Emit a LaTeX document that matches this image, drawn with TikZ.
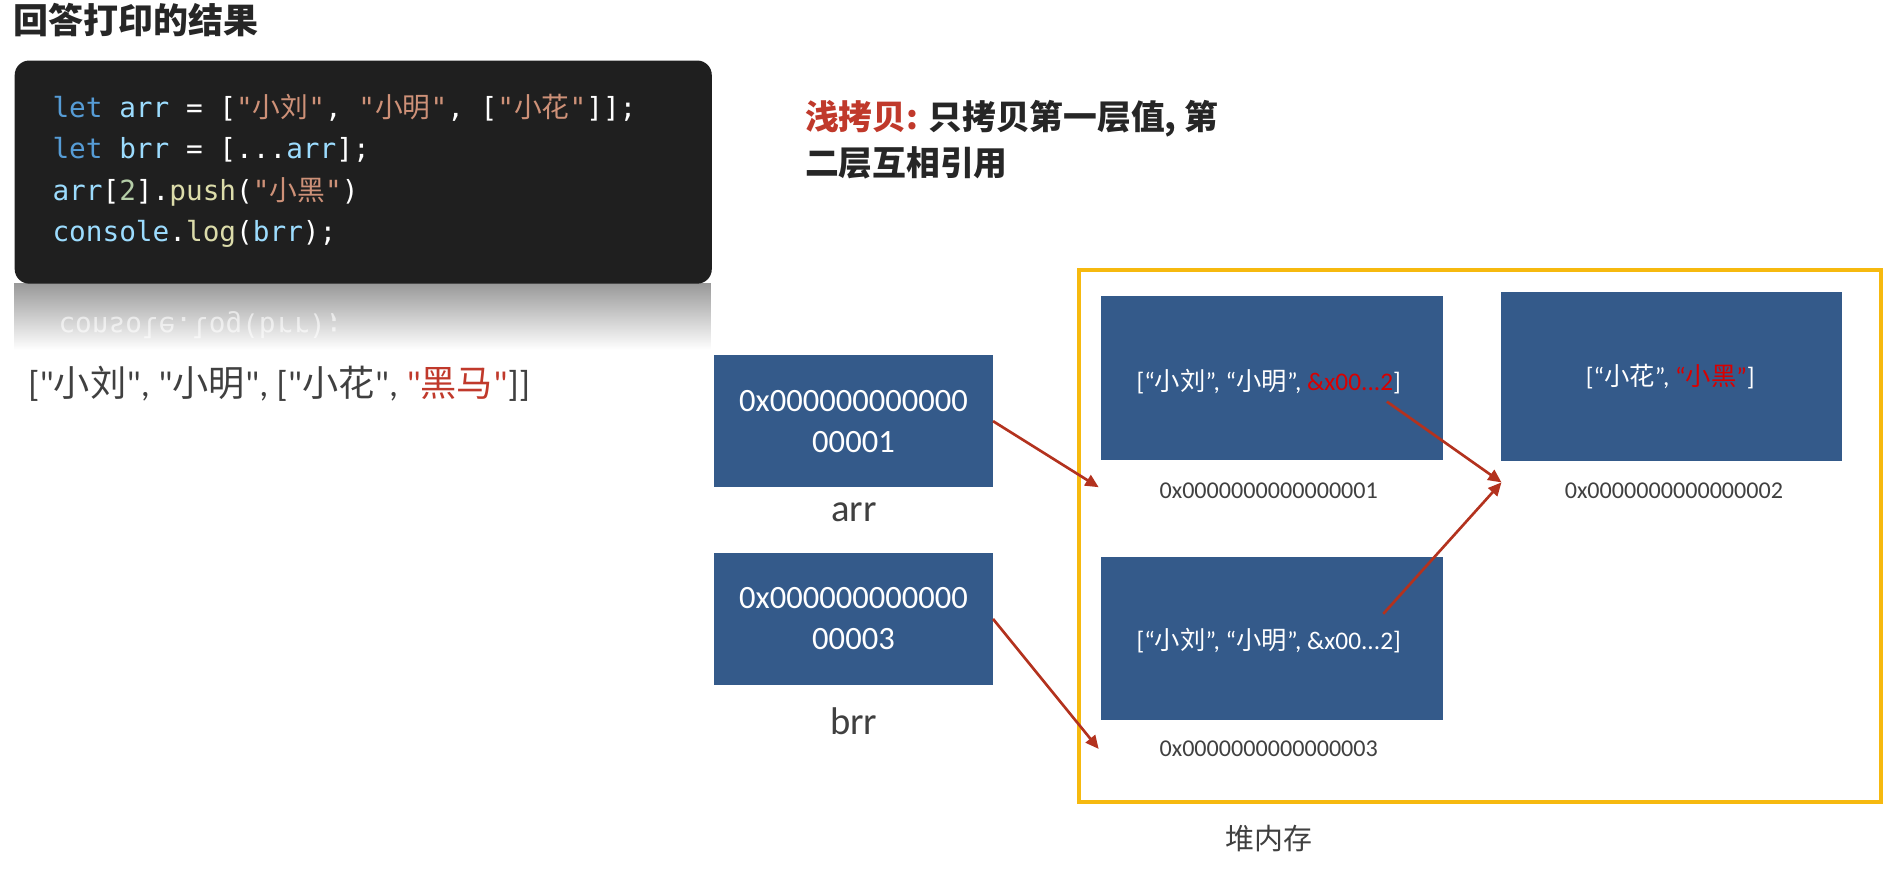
\documentclass[tikz,border=0pt]{standalone}
\usepackage{fontspec}
\setmainfont{Noto Sans CJK SC}
\newfontfamily\cjk{Noto Sans CJK SC}
\newfontfamily\lat{Carlito}
\newfontfamily\codef{DejaVu Sans Mono}
\usetikzlibrary{arrows.meta,fadings}
\definecolor{boxblue}{HTML}{345A8A}
\definecolor{arrred}{HTML}{B3321E}
\definecolor{yel}{HTML}{F6B90F}
\definecolor{kw}{HTML}{569CD6}
\definecolor{vr}{HTML}{9CDCFE}
\definecolor{st}{HTML}{CE9178}
\definecolor{fn}{HTML}{DCDCAA}
\definecolor{nm}{HTML}{B5CEA8}
\definecolor{txt}{HTML}{404040}
\definecolor{hl}{HTML}{C0392B}
\tikzset{
  mem/.style={fill=boxblue,draw=none,anchor=north west,inner sep=0pt},
  addr/.style={text=txt,font=\lat\fontsize{20}{24}\selectfont},
  celltext/.style={text=white,font=\lat\fontsize{21}{24}\selectfont},
  ptr/.style={draw=arrred,line width=2.2pt,-{Triangle[length=11pt,width=10pt]}},
}
\begin{document}
\begin{tikzpicture}[x=1pt,y=-1pt]
\useasboundingbox (0,0) rectangle (1568,723);
% title
\node[anchor=west,font=\bfseries\fontsize{29}{32}\selectfont,text=black!85] (title) at (8,17) {回答打印的结果};
% reflection
\fill[black!40,path fading=south] (12,235) rectangle (590,290);
\node[anchor=west,yscale=-1,text=white,font=\codef\fontsize{23}{26}\selectfont,opacity=0.6] (refl) at (45,270) {console.log(brr);};
% code box
\node[fill=black!88,rounded corners=12pt,minimum width=578pt,minimum height=185pt,anchor=north west] (code) at (12,50) {};
\begin{scope}[font=\codef\fontsize{23}{26}\selectfont]
\node[anchor=west] (l1) at (40,89) {\textcolor{kw}{let} \textcolor{vr}{arr} \textcolor{white}{= [}\textcolor{st}{"{\cjk 小刘}"}\textcolor{white}{, }\textcolor{st}{"{\cjk 小明}"}\textcolor{white}{, [}\textcolor{st}{"{\cjk 小花}"}\textcolor{white}{]];}};
\node[anchor=west] (l2) at (40,124) {\textcolor{kw}{let} \textcolor{vr}{brr} \textcolor{white}{= [...}\textcolor{vr}{arr}\textcolor{white}{];}};
\node[anchor=west] (l3) at (40,159) {\textcolor{vr}{arr}\textcolor{white}{[}\textcolor{nm}{2}\textcolor{white}{].}\textcolor{fn}{push}\textcolor{white}{(}\textcolor{st}{"{\cjk 小黑}"}\textcolor{white}{)}};
\node[anchor=west] (l4) at (40,194) {\textcolor{vr}{console}\textcolor{white}{.}\textcolor{fn}{log}\textcolor{white}{(}\textcolor{vr}{brr}\textcolor{white}{);}};
\end{scope}
% result
\node[anchor=west,text=txt,font=\lat\fontsize{30}{34}\selectfont] (result) at (20,318) {["{\cjk 小刘}", "{\cjk 小明}", ["{\cjk 小花}", \textcolor{hl}{"{\cjk 黑马}"}]]};
% heading
\node[anchor=north west,align=left,font=\bfseries\fontsize{28}{38}\selectfont,text=black!85] (head) at (664,80) {\textcolor{hl}{浅拷贝:} 只拷贝第一层值, 第\\二层互相引用};
% stack
\node[mem,minimum width=231pt,minimum height=110pt] (arr) at (592,294) {};
\node[text=white,align=center,font=\lat\fontsize{27}{34}\selectfont] (arrt) at (arr.center) {0x000000000000\\00001};
\node[text=txt,font=\lat\fontsize{32}{36}\selectfont] (arrl) at (708,425) {arr};
\node[mem,minimum width=231pt,minimum height=110pt] (brr) at (592,458) {};
\node[text=white,align=center,font=\lat\fontsize{27}{34}\selectfont] (brrt) at (brr.center) {0x000000000000\\00003};
\node[text=txt,font=\lat\fontsize{32}{36}\selectfont] (brrl) at (708,598) {brr};
% heap
\node[draw=yel,line width=3.5pt,minimum width=665pt,minimum height=441pt,anchor=north west] (heap) at (893,222) {};
\node[mem,minimum width=283pt,minimum height=136pt] (A) at (913,245) {};
\node[celltext] (At) at (1052,316) {[“{\cjk 小刘}”, “{\cjk 小明}”, \textcolor{red!85!black}{\&x00...2}]};
\node[addr] (Al) at (1052,407) {0x0000000000000001};
\node[mem,minimum width=283pt,minimum height=140pt] (B) at (1244,242) {};
\node[celltext] (Bt) at (1385,312) {[“{\cjk 小花}”, \textcolor{red!85!black}{“{\cjk 小黑}”}]};
\node[addr] (Bl) at (1388,407) {0x0000000000000002};
\node[mem,minimum width=283pt,minimum height=135pt] (C) at (913,462) {};
\node[celltext] (Ct) at (1052,531) {[“{\cjk 小刘}”, “{\cjk 小明}”, \&x00...2]};
\node[addr] (Cl) at (1052,621) {0x0000000000000003};
\node[text=txt,font=\fontsize{24}{28}\selectfont] (heapl) at (1052,695) {堆内存};
% arrows
\coordinate (tA) at (911,404);
\coordinate (tC) at (911,621);
\coordinate (tB) at (1245,400);
\coordinate (sA) at (1150,333);
\coordinate (sC) at (1147,509);
\draw[ptr] (arr.east) -- (tA);
\draw[ptr] (brr.east) -- (tC);
\draw[ptr] (sA) -- (tB);
\draw[ptr] (sC) -- (tB);
\end{tikzpicture}
\end{document}
